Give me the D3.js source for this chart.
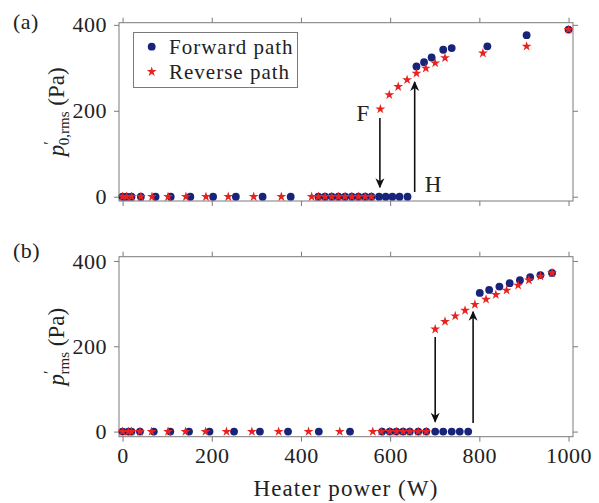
<!DOCTYPE html>
<html>
<head>
<meta charset="utf-8">
<script src="https://cdn.jsdelivr.net/npm/d3@7"></script>
<style>
  body { margin: 0; background: #fff; }
  text { font-family: "Liberation Serif", "Times New Roman", serif; fill: #222; }
</style>
</head>
<body>
<svg id="chart"></svg>
<script>
// tick values
const xTicks = [0, 200, 400, 600, 800, 1000];
const yTicks = [0, 200, 400];

// panel (a): forward path (circles)
const topFwdX = [0, 9, 20, 41, 74, 108, 152, 203, 254, 314, 377, 439, 454, 469, 484, 499, 514, 529, 544, 558,
                 575, 590, 605, 621, 639, 659, 676, 693, 719, 738, 818, 906, 1000];
const topFwdY = [0, 0, 0, 0, 0, 0, 0, 0, 0, 0, 0, 0, 0, 0, 0, 0, 0, 0, 0, 0,
                 0, 0, 0, 0, 0, 303, 313, 324, 342, 346, 350, 376, 389];
// panel (a): reverse path (stars)
const topRevX = [0, 9, 20, 41, 66, 102, 142, 187, 237, 294, 356, 424, 439, 454, 469, 484, 499, 514, 529, 544,
                 558, 578, 598, 618, 638, 659, 680, 701, 723, 808, 906, 1000];
const topRevY = [0, 0, 0, 0, 0, 0, 0, 0, 0, 0, 0, 0, 0, 0, 0, 0, 0, 0, 0, 0,
                 0, 204, 237, 256, 272, 287, 299, 311, 323, 334, 350, 389];

// panel (b): forward path
const botFwdX = [0, 13, 20, 39, 70, 107, 149, 195, 250, 308, 371, 440, 510, 582, 599, 614, 629, 644, 663, 681,
                 701, 719, 738, 756, 775, 801, 822, 845, 868, 891, 914, 937, 963];
const botFwdY = [0, 0, 0, 0, 0, 0, 0, 0, 0, 0, 0, 0, 0, 0, 0, 0, 0, 0, 0, 0,
                 0, 0, 0, 0, 0, 325, 332, 340, 348, 355, 362, 367, 372];
// panel (b): reverse path
const botRevX = [0, 13, 20, 39, 65, 102, 141, 186, 233, 290, 350, 417, 487, 561, 580, 599, 614, 629, 644, 663,
                 681, 701, 723, 746, 768, 790, 815, 837, 861, 887, 911, 937, 963];
const botRevY = [0, 0, 0, 0, 0, 0, 0, 0, 0, 0, 0, 0, 0, 0, 0, 0, 0, 0, 0, 0,
                 0, 240, 258, 271, 284, 298, 310, 321, 331, 343, 355, 364, 372];

// hysteresis arrows: [x, from, to] in data units
const topArrows = [[577, 183, 22], [655, 11, 267]];
const botArrows = [[701, 222, 23], [786, 20, 281]];
const topLetters = [["F", 539, 195], ["H", 696, 30]];

const blue = "#17247a", red = "#e8231f", frame = "#7a7a7a";

const W = 599, H = 503;
const svg = d3.select("#chart").attr("width", W).attr("height", H);

const defs = svg.append("defs");
defs.append("marker")
    .attr("id", "head")
    .attr("viewBox", "0 0 10 10")
    .attr("refX", 9).attr("refY", 5)
    .attr("markerWidth", 10).attr("markerHeight", 10)
    .attr("markerUnits", "userSpaceOnUse")
    .attr("orient", "auto")
    .append("path")
    .attr("d", "M0,0.5 L10,5 L0,9.5 L3,5 Z")
    .attr("fill", "#111");

const x = d3.scaleLinear().domain([-8, 1010]).range([119, 573]);
const star = d3.symbol().type(d3.symbolStar).size(30);

function panel(opts) {
    const y = d3.scaleLinear().domain(opts.yDomain).range(opts.yRange);
    const g = svg.append("g");
    const top = opts.yRange[1], bottom = opts.yRange[0];

    // frame
    g.append("rect")
        .attr("x", x.range()[0]).attr("y", top)
        .attr("width", x.range()[1] - x.range()[0])
        .attr("height", bottom - top)
        .attr("fill", "none").attr("stroke", frame).attr("stroke-width", 1);

    // axes (ticks outward on all four sides)
    const left = g.append("g").attr("transform", `translate(${x.range()[0]},0)`)
        .call(d3.axisLeft(y).tickValues(yTicks).tickSize(5).tickPadding(7));
    const right = g.append("g").attr("transform", `translate(${x.range()[1]},0)`)
        .call(d3.axisRight(y).tickValues(yTicks).tickSize(5).tickFormat(""));
    const bot = g.append("g").attr("transform", `translate(0,${bottom})`)
        .call(d3.axisBottom(x).tickValues(xTicks).tickSize(5).tickPadding(6)
            .tickFormat(opts.xLabels ? d3.format("d") : ""));
    const tp = g.append("g").attr("transform", `translate(0,${top})`)
        .call(d3.axisTop(x).tickValues(xTicks).tickSize(5).tickFormat(""));
    [left, right, bot, tp].forEach(a => {
        a.select(".domain").remove();
        a.selectAll(".tick line").attr("stroke", frame);
        a.selectAll("text").attr("font-size", 22).attr("font-family", "Liberation Serif")
            .attr("fill", "#222").attr("letter-spacing", 0.5);
    });

    // forward path
    g.append("g").selectAll("circle")
        .data(d3.zip(opts.fx, opts.fy))
        .join("circle")
        .attr("cx", d => x(d[0])).attr("cy", d => y(d[1]))
        .attr("r", 3.9).attr("fill", blue);

    // reverse path
    g.append("g").selectAll("path")
        .data(d3.zip(opts.rx, opts.ry))
        .join("path")
        .attr("transform", d => `translate(${x(d[0])},${y(d[1])})`)
        .attr("d", star).attr("fill", red);

    // arrows
    g.append("g").selectAll("line")
        .data(opts.arrows)
        .join("line")
        .attr("x1", d => x(d[0])).attr("x2", d => x(d[0]))
        .attr("y1", d => y(d[1])).attr("y2", d => y(d[2]))
        .attr("stroke", "#111").attr("stroke-width", 1.6)
        .attr("marker-end", "url(#head)");

    // letters
    g.append("g").selectAll("text")
        .data(opts.letters || [])
        .join("text")
        .attr("x", d => x(d[1])).attr("y", d => y(d[2]))
        .attr("text-anchor", "middle").attr("dy", "0.35em")
        .attr("font-size", 23)
        .text(d => d[0]);

    // panel tag
    g.append("text").attr("x", 13).attr("y", opts.tagY)
        .attr("font-size", 22).attr("letter-spacing", 0.5).text(opts.tag);

    // y label
    const cy = (top + bottom) / 2;
    const lab = g.append("text")
        .attr("transform", `translate(${opts.labX},${cy}) rotate(-90)`)
        .attr("text-anchor", "middle").attr("font-size", 23);
    lab.append("tspan").attr("font-style", "italic").text("p");
    lab.append("tspan").attr("font-size", 16).attr("dy", -9).attr("dx", 0).text("′");
    lab.append("tspan").attr("font-size", 15).attr("dy", 14).attr("dx", -4).text(opts.sub);
    lab.append("tspan").attr("dy", -5).text(" (Pa)");

    return y;
}

panel({
    yDomain: [-10, 405], yRange: [201, 22.7],
    fx: topFwdX, fy: topFwdY, rx: topRevX, ry: topRevY,
    arrows: topArrows, letters: topLetters,
    xLabels: false, tag: "(a)", tagY: 29, labX: 64, sub: "0,rms"
});

panel({
    yDomain: [-12, 410], yRange: [436.7, 256.7],
    fx: botFwdX, fy: botFwdY, rx: botRevX, ry: botRevY,
    arrows: botArrows, letters: [],
    xLabels: true, tag: "(b)", tagY: 258, labX: 64, sub: "rms"
});

// x axis label
svg.append("text")
    .attr("x", 346).attr("y", 496)
    .attr("text-anchor", "middle")
    .attr("font-size", 23).attr("letter-spacing", 1.1)
    .text("Heater power (W)");

// legend
const leg = svg.append("g");
leg.append("rect")
    .attr("x", 133.5).attr("y", 32.5).attr("width", 164).attr("height", 55)
    .attr("fill", "#fff").attr("stroke", frame).attr("stroke-width", 1);
leg.append("circle").attr("cx", 151.7).attr("cy", 46.7).attr("r", 3.9).attr("fill", blue);
leg.append("path").attr("transform", "translate(151.7,71.7)")
    .attr("d", star).attr("fill", red);
leg.selectAll("text.lg")
    .data(["Forward path", "Reverse path"])
    .join("text")
    .attr("class", "lg")
    .attr("x", 169).attr("y", (d, i) => 46.7 + i * 25)
    .attr("dy", "0.35em").attr("font-size", 21).attr("letter-spacing", 1)
    .text(d => d);
</script>
</body>
</html>
